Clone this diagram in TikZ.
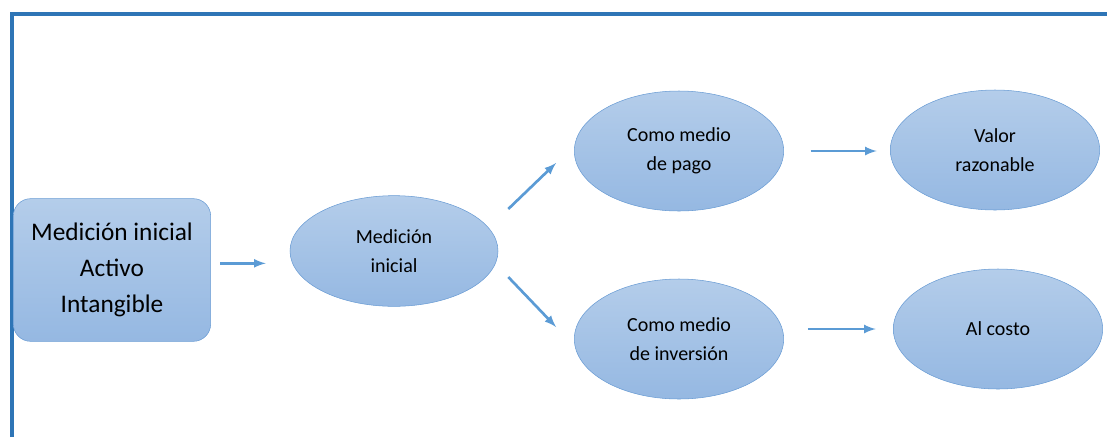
\documentclass[tikz,border=0pt]{standalone}
\usepackage{fontspec}
\setmainfont{Carlito}
\usepackage{tikz}
\usetikzlibrary{arrows,shapes.geometric}
\definecolor{marco}{HTML}{2E75B6}
\definecolor{borde}{HTML}{6A9CD4}
\definecolor{claro}{HTML}{B4CDEA}
\definecolor{oscuro}{HTML}{95B8E2}
\definecolor{flechaazul}{HTML}{5B9BD5}

\begin{document}
\begin{tikzpicture}[x=0.75pt,y=-0.75pt,
    burbuja/.style={ellipse, draw=borde, top color=claro, bottom color=oscuro, minimum width=157pt, minimum height=90pt, inner sep=0pt, align=center, font=\fontsize{15}{22}\selectfont},
    flecha/.style={color=flechaazul, line width=2pt, -latex}]
            \useasboundingbox (0,0) rectangle (1107,437);
            \draw [marco, line width=2.8pt] (12,437) -- (12,14) -- (1107,14);
            \node[draw=borde, rounded corners=13pt, top color=claro, bottom color=oscuro, minimum width=148pt, minimum height=107pt, align=center, font=\fontsize{19}{27}\selectfont] (activo) at (112,270) {Medición inicial\\Activo\\Intangible};
            \node[burbuja, minimum width=156pt, minimum height=83pt] (medicion) at (394,251) {Medición\\inicial};
            \node[burbuja] (pago) at (679,151) {Como medio\\de pago};
            \node[burbuja] (inversion) at (679,339) {Como medio\\de inversión};
            \node[burbuja] (valor) at (995,150) {Valor\\razonable};
            \node[burbuja] (costo) at (998,329) {Al costo};
            \draw [flecha, shorten <=7pt, shorten >=18pt] ([yshift=5pt]activo.east) -- ([yshift=5pt]activo.east -| medicion.west);
            \draw [flecha] ([xshift=7.5pt,yshift=31.5pt]medicion.east) -- ([xshift=-13.5pt,yshift=-9pt]pago.west);
            \draw [flecha] ([xshift=7.5pt,yshift=-19.5pt]medicion.east) -- ([xshift=-13.5pt,yshift=9pt]inversion.west);
            \draw [flecha, shorten <=20pt, shorten >=10pt] (pago.east) -- (pago.east -| valor.west);
            \draw [flecha, shorten <=18pt, shorten >=13pt] ([yshift=7.5pt]inversion.east) -- ([yshift=7.5pt]inversion.east -| costo.west);
        \end{tikzpicture}
\end{document}
